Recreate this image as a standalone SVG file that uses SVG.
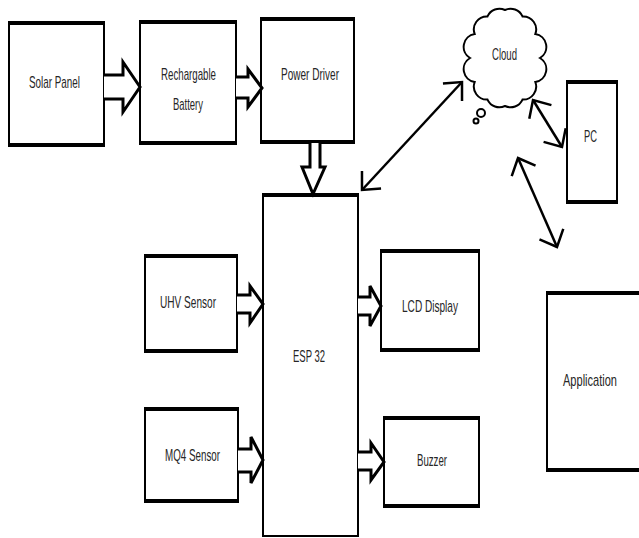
<svg xmlns="http://www.w3.org/2000/svg" width="639" height="538" viewBox="0 0 639 538">
<defs>
<style>
.box{fill:#fff;stroke:#000;stroke-width:2}
.edge{stroke:#000;stroke-width:4}
.lbl{font-family:"Liberation Sans",Arial,sans-serif;font-size:17px;fill:#262626;text-anchor:middle}
.blk{fill:#fff;stroke:#000;stroke-width:3;stroke-linejoin:miter}
.dbl{stroke:#000;stroke-width:2.5;fill:none}
</style>
<marker id="open" viewBox="-20 -20 24 40" refX="0" refY="0" markerWidth="24" markerHeight="40" markerUnits="userSpaceOnUse" orient="auto-start-reverse" overflow="visible">
<path d="M-14,-13 L0,0 L-14,13" fill="none" stroke="#000" stroke-width="2.5"/>
</marker>
</defs>
<rect width="639" height="538" fill="#fff"/>

<g id="solar-panel">
<rect class="box" x="9" y="23" width="95" height="122"/>
<line class="edge" x1="8" y1="23" x2="105" y2="23"/><line class="edge" x1="8" y1="145" x2="105" y2="145"/>
<text class="lbl" x="54.5" y="88" textLength="51" lengthAdjust="spacingAndGlyphs">Solar Panel</text>
</g>
<g id="battery">
<rect class="box" x="140" y="22" width="96" height="121"/>
<line class="edge" x1="139" y1="22" x2="237" y2="22"/><line class="edge" x1="139" y1="143" x2="237" y2="143"/>
<text class="lbl" x="188.5" y="80" textLength="55" lengthAdjust="spacingAndGlyphs">Rechargable</text>
<text class="lbl" x="188" y="110" textLength="30" lengthAdjust="spacingAndGlyphs">Battery</text>
</g>
<g id="power-driver">
<rect class="box" x="261" y="19" width="93" height="123"/>
<line class="edge" x1="260" y1="19" x2="355" y2="19"/><line class="edge" x1="260" y1="142" x2="355" y2="142"/>
<text class="lbl" x="310" y="80" textLength="58" lengthAdjust="spacingAndGlyphs">Power Driver</text>
</g>
<g id="esp32">
<rect class="box" x="263" y="195" width="95" height="341"/>
<line class="edge" x1="262" y1="195" x2="359" y2="195"/>
<text class="lbl" x="309" y="362" textLength="32" lengthAdjust="spacingAndGlyphs">ESP 32</text>
</g>
<g id="uhv-sensor">
<rect class="box" x="145" y="256" width="92" height="96"/>
<line class="edge" x1="144" y1="256" x2="238" y2="256"/><line class="edge" x1="144" y1="351" x2="238" y2="351"/>
<text class="lbl" x="188" y="308" textLength="56" lengthAdjust="spacingAndGlyphs">UHV Sensor</text>
</g>
<g id="mq4-sensor">
<rect class="box" x="145" y="409" width="93" height="93"/>
<line class="edge" x1="144" y1="409" x2="239" y2="409"/><line class="edge" x1="144" y1="501" x2="239" y2="501"/>
<text class="lbl" x="192.5" y="461" textLength="55" lengthAdjust="spacingAndGlyphs">MQ4 Sensor</text>
</g>
<g id="lcd-display">
<rect class="box" x="381" y="251" width="98" height="100"/>
<line class="edge" x1="380" y1="251" x2="480" y2="251"/><line class="edge" x1="380" y1="350" x2="480" y2="350"/>
<text class="lbl" x="430" y="312" textLength="56" lengthAdjust="spacingAndGlyphs">LCD Display</text>
</g>
<g id="buzzer">
<rect class="box" x="384" y="418" width="95" height="89"/>
<line class="edge" x1="383" y1="418" x2="480" y2="418"/><line class="edge" x1="383" y1="506" x2="480" y2="506"/>
<text class="lbl" x="432" y="466" textLength="30" lengthAdjust="spacingAndGlyphs">Buzzer</text>
</g>
<g id="cloud">
<path d="M505,10 A13,13 0 0 1 522.5,16.4 A13,13 0 0 1 535.3,34 A13,13 0 0 1 540,58 A13,13 0 0 1 535.3,82 A13,13 0 0 1 522.5,99.6 A13,13 0 0 1 505,106 A13,13 0 0 1 487.5,99.6 A13,13 0 0 1 474.7,82 A13,13 0 0 1 470,58 A13,13 0 0 1 474.7,34 A13,13 0 0 1 487.5,16.4 A13,13 0 0 1 505,10 Z" fill="#fff" stroke="#000" stroke-width="2"/>
<circle cx="481" cy="113" r="4" fill="#fff" stroke="#000" stroke-width="2"/>
<circle cx="476" cy="121" r="2.5" fill="#fff" stroke="#000" stroke-width="2"/>
<text class="lbl" x="504.5" y="60" textLength="25" lengthAdjust="spacingAndGlyphs">Cloud</text>
</g>
<g id="pc">
<rect class="box" x="567" y="82" width="50" height="121"/>
<line class="edge" x1="566" y1="82" x2="618" y2="82"/><line class="edge" x1="566" y1="202" x2="618" y2="202"/>
<text class="lbl" x="590.5" y="142" textLength="13" lengthAdjust="spacingAndGlyphs">PC</text>
</g>
<g id="application">
<path class="box" d="M639,293 H547 V470 H639"/>
<line class="edge" x1="546" y1="293" x2="639" y2="293"/><line class="edge" x1="546" y1="470" x2="639" y2="470"/>
<text class="lbl" style="font-size:14px" transform="translate(590,386) scale(1,1.2)" x="0" y="0" textLength="54" lengthAdjust="spacingAndGlyphs">Application</text>
</g>

<g id="connectors">
<path class="blk" d="M104,75 H123 V62 L140,87 L123,112 V99 H104"/>
<path class="blk" d="M236,77 H248 V69 L262,88 L248,107 V98 H236"/>
<path class="blk" d="M310,143 V167 H302 L313,194 L325,167 H320 V143"/>
<path class="blk" d="M237,295 H250 V286 L263,304 L250,323 V313 H237"/>
<path class="blk" d="M238,449 H251 V437 L263,460 L251,483 V472 H238"/>
<path class="blk" d="M358,297 H370 V286 L381,306 L370,326 V315 H358"/>
<path class="blk" d="M358,452 H371 V443 L384,462 L371,480 V470 H358"/>
<line class="dbl" x1="362" y1="190" x2="462" y2="82" marker-start="url(#open)" marker-end="url(#open)"/>
<line class="dbl" x1="533" y1="100" x2="562" y2="147" marker-start="url(#open)" marker-end="url(#open)"/>
<line class="dbl" x1="518" y1="158" x2="557" y2="247" marker-start="url(#open)" marker-end="url(#open)"/>
</g>
</svg>
